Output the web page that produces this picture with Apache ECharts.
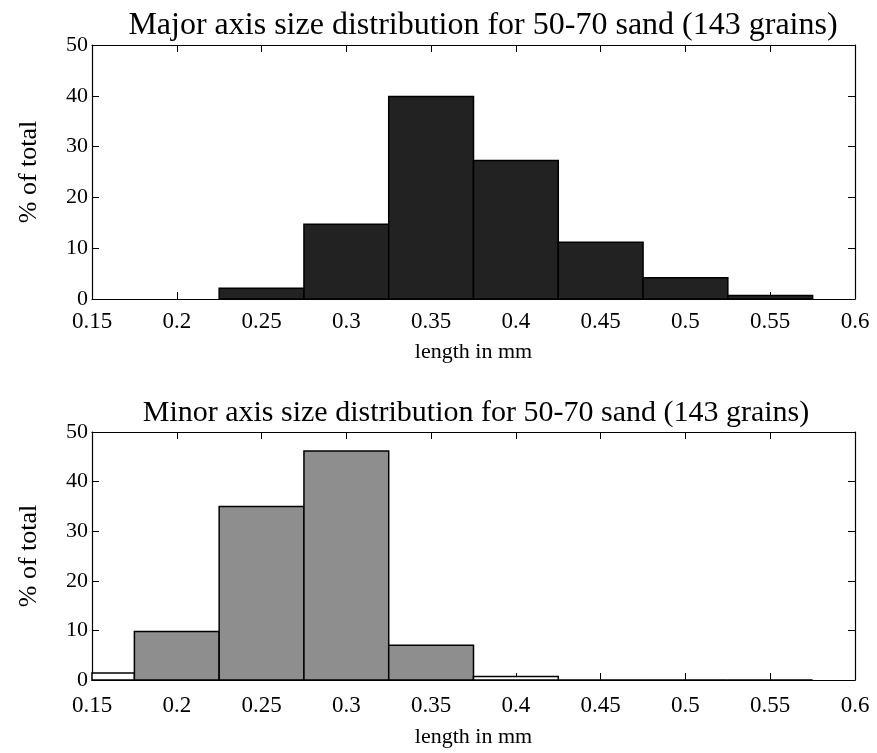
<!DOCTYPE html>
<html>
<head>
<meta charset="utf-8">
<script src="https://cdn.jsdelivr.net/npm/echarts@6/dist/echarts.min.js"></script>
<style>
html,body{margin:0;padding:0;background:#fff;}
#chart{width:877px;height:753px;}
</style>
</head>
<body>
<div id="chart"></div>
<script>
// ---- data ----
const titles = [
  "Major axis size distribution for 50-70 sand (143 grains)",
  "Minor axis size distribution for 50-70 sand (143 grains)"
];
const xAxisName = "length in mm";
const yAxisName = "% of total";
const binWidth = 0.05;
const majorCenters = [0.25, 0.30, 0.35, 0.40, 0.45, 0.50, 0.55];
const majorValues  = [2.10, 14.69, 39.86, 27.27, 11.19, 4.20, 0.70];
const minorCenters = [0.15, 0.20, 0.25, 0.30, 0.35, 0.40, 0.45, 0.50, 0.55];
const minorValues  = [1.40, 9.79, 34.97, 46.15, 6.99, 0.70, 0, 0, 0];
const xMin = 0.15, xMax = 0.6, xStep = 0.05;
const yMin = 0, yMax = 50, yStep = 10;

const FONT = "'Liberation Serif', 'DejaVu Serif', serif";
const chart = echarts.init(document.getElementById('chart'), null, {renderer: 'canvas'});

function makeData(centers, values){
  return centers.map((c, i) => [c - binWidth/2, c + binWidth/2, values[i]]);
}
function makeRender(fill, whiteBelow){
  return function(params, api){
    const x0 = api.value(0), x1 = api.value(1), v = api.value(2);
    const p0 = api.coord([x0, v]);
    const p1 = api.coord([x1, 0]);
    const cs = params.coordSys;
    const rect = echarts.graphic.clipRectByRect(
      {x: p0[0], y: p0[1], width: p1[0] - p0[0], height: p1[1] - p0[1]},
      {x: cs.x, y: cs.y - 1, width: cs.width, height: cs.height + 1}
    );
    if (!rect) return;
    return {type: 'rect', shape: rect, style: {fill: v > whiteBelow ? fill : '#fff', stroke: '#000', lineWidth: 1.5}};
  };
}

const grids = [
  {left: 92, right: 22, top: 45, height: 254},
  {left: 92, right: 22, top: 432, height: 248}
];
const nameGaps = [42, 46];
const labelMargins = [11, 14];
const xLabelFmt = v => String(+(+v).toFixed(2));
const xAxes = [], yAxes = [];
grids.forEach((g, gi) => {
  xAxes.push({
    type: 'value', gridIndex: gi, min: xMin, max: xMax, interval: xStep,
    name: xAxisName, nameLocation: 'middle', nameGap: nameGaps[gi],
    nameTextStyle: {fontFamily: FONT, fontSize: 22, color: '#000'},
    axisLine: {show: true, onZero: false, lineStyle: {color: '#000', width: 1.2}},
    axisTick: {show: true, inside: true, length: 7, lineStyle: {color: '#000'}},
    axisLabel: {fontFamily: FONT, fontSize: 23, color: '#000', margin: labelMargins[gi], formatter: xLabelFmt, showMinLabel: true, showMaxLabel: true},
    splitLine: {show: false}
  });
  xAxes.push({
    type: 'value', gridIndex: gi, position: 'top', min: xMin, max: xMax, interval: xStep,
    axisLine: {show: true, onZero: false, lineStyle: {color: '#000', width: 1.2}},
    axisTick: {show: true, inside: true, length: 7, lineStyle: {color: '#000'}},
    axisLabel: {show: false}, splitLine: {show: false}
  });
  yAxes.push({
    type: 'value', gridIndex: gi, min: yMin, max: yMax, interval: yStep,
    name: yAxisName, nameLocation: 'middle', nameGap: 50,
    nameTextStyle: {fontFamily: FONT, fontSize: 26, color: '#000'},
    axisLine: {show: true, onZero: false, lineStyle: {color: '#000', width: 1.2}},
    axisTick: {show: true, inside: true, length: 7, lineStyle: {color: '#000'}},
    axisLabel: {fontFamily: FONT, fontSize: 22, color: '#000', margin: 4},
    splitLine: {show: false}
  });
  yAxes.push({
    type: 'value', gridIndex: gi, position: 'right', min: yMin, max: yMax, interval: yStep,
    axisLine: {show: true, onZero: false, lineStyle: {color: '#000', width: 1.2}},
    axisTick: {show: true, inside: true, length: 7, lineStyle: {color: '#000'}},
    axisLabel: {show: false}, splitLine: {show: false}
  });
});

chart.setOption({
  animation: false,
  backgroundColor: '#fff',
  title: [
    {text: titles[0], left: 478, textAlign: 'center', top: 5, textStyle: {fontFamily: FONT, fontSize: 32, fontWeight: 'normal', color: '#000'}},
    {text: titles[1], left: 471, textAlign: 'center', top: 393, textStyle: {fontFamily: FONT, fontSize: 30, fontWeight: 'normal', color: '#000'}}
  ],
  grid: grids,
  xAxis: xAxes,
  yAxis: yAxes,
  series: [
    {type: 'custom', xAxisIndex: 0, yAxisIndex: 0, renderItem: makeRender('#222222', -1), data: makeData(majorCenters, majorValues), clip: false},
    {type: 'custom', xAxisIndex: 2, yAxisIndex: 2, renderItem: makeRender('#8e8e8e', 1.5), data: makeData(minorCenters, minorValues), clip: false}
  ]
});
</script>
</body>
</html>
